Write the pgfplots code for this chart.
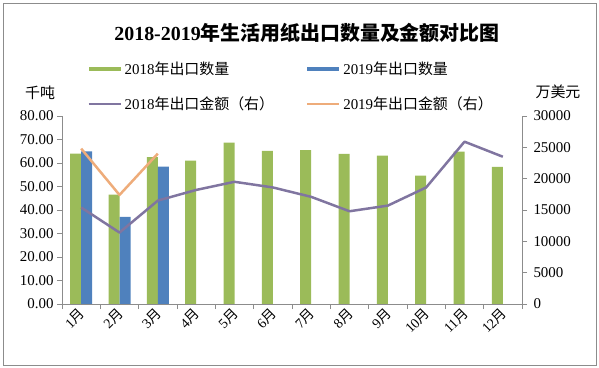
\documentclass[border=0pt]{standalone}
\usepackage{pgfplots}
\pgfplotsset{compat=1.18}
\usepackage{fontspec}
\setmainfont{Liberation Serif}
\newfontfamily\cjk{Noto Sans CJK SC}
\definecolor{g18}{HTML}{9BBB59}
\definecolor{b19}{HTML}{4F81BD}
\definecolor{l18}{RGB}{128,117,160}
\definecolor{l19}{RGB}{238,172,122}
\definecolor{axg}{RGB}{140,140,140}
\begin{document}
\begin{tikzpicture}
\useasboundingbox (0,0) rectangle (599bp,368bp);
\draw[axg, line width=0.8pt] (3bp,3bp) rectangle (596bp,365bp);
\node[font=\fontsize{20}{24}\selectfont\bfseries] at (307bp,335bp) {2018-2019{\cjk 年生活用纸出口数量及金额对比图}};
\node[font=\fontsize{15}{18}\selectfont\cjk] at (40bp,275bp) {千吨};
\node[font=\fontsize{15}{18}\selectfont\cjk] at (558bp,276bp) {万美元};
\begin{axis}[at={(62bp,64bp)}, anchor=south west, scale only axis,
  width=460bp, height=188bp,
  xmin=0.5, xmax=12.5, ymin=0, ymax=80,
  ytick={0,10,...,80},
  axis x line*=bottom, axis y line*=left,
  axis line style={axg, line width=0.8pt, -},
  tick style={axg, line width=0.8pt},
  tick align=outside, major tick length=5bp,
  xtick={0.5,1.5,...,12.5},
  x tick label as interval,
  xticklabels={{1\cjk 月},{2\cjk 月},{3\cjk 月},{4\cjk 月},{5\cjk 月},{6\cjk 月},{7\cjk 月},{8\cjk 月},{9\cjk 月},{10\cjk 月},{11\cjk 月},{12\cjk 月}},
  xticklabel style={rotate=45, anchor=east, font=\fontsize{14}{16}\selectfont, xshift=3bp, yshift=-2bp},
  yticklabel style={font=\fontsize{15}{18}\selectfont},
  /pgf/number format/assume math mode=true,
  yticklabel={\pgfmathprintnumber[fixed, fixed zerofill, precision=2]{\tick}},
  legend columns=2,
  legend cell align=left,
  legend style={draw=none, fill=none, inner sep=0pt, at={(0.055,1.297)}, anchor=north west,
    font=\fontsize{15}{18}\selectfont, row sep=16bp,
    /tikz/every even column/.append style={column sep=30bp},
    /tikz/every odd column/.append style={column sep=1bp}},
]
\addplot[ybar, bar width=11bp, bar shift=-5.5bp, fill=g18, draw=none,
  legend image code/.code={\fill[g18] (0bp,-2bp) rectangle (32bp,2bp);}]
  coordinates {(1,64.0) (2,46.5) (3,62.5) (4,61.0) (5,68.7) (6,65.2) (7,65.5) (8,63.9) (9,63.1) (10,54.6) (11,64.8) (12,58.4)};
\addlegendentry{2018{\cjk 年出口数量}}
\addplot[ybar, bar width=11bp, bar shift=5.5bp, fill=b19, draw=none,
  legend image code/.code={\fill[b19] (0bp,-2bp) rectangle (32bp,2bp);}]
  coordinates {(1,64.9) (2,37.1) (3,58.5)};
\addlegendentry{2019{\cjk 年出口数量}}
\addlegendimage{legend image code/.code={\draw[l18, line width=2.2pt] (0bp,0bp) -- (32bp,0bp);}}
\addlegendentry{2018{\cjk 年出口金额（右）}}
\addlegendimage{legend image code/.code={\draw[l19, line width=2.2pt] (0bp,0bp) -- (32bp,0bp);}}
\addlegendentry{2019{\cjk 年出口金额（右）}}
\end{axis}
\begin{axis}[at={(62bp,64bp)}, anchor=south west, scale only axis,
  width=460bp, height=188bp,
  xmin=0.5, xmax=12.5, ymin=0, ymax=30000,
  ytick={0,5000,...,30000},
  axis x line=none, axis y line*=right,
  axis line style={axg, line width=0.8pt, -},
  tick style={axg, line width=0.8pt},
  tick align=outside, major tick length=5bp,
  scaled y ticks=false,
  /pgf/number format/assume math mode=true,
  yticklabel style={font=\fontsize{15}{18}\selectfont, /pgf/number format/1000 sep={}, xshift=3bp},
]
\addplot[l18, line width=2.5pt, line join=round, mark=none]
  coordinates {(1,15400) (2,11400) (3,16500) (4,18200) (5,19500) (6,18600) (7,17100) (8,14800) (9,15700) (10,18600) (11,25900) (12,23500)};
\addplot[l19, line width=2.5pt, line join=round, mark=none]
  coordinates {(1,24800) (2,17400) (3,24000)};
\end{axis}
\end{tikzpicture}
\end{document}
